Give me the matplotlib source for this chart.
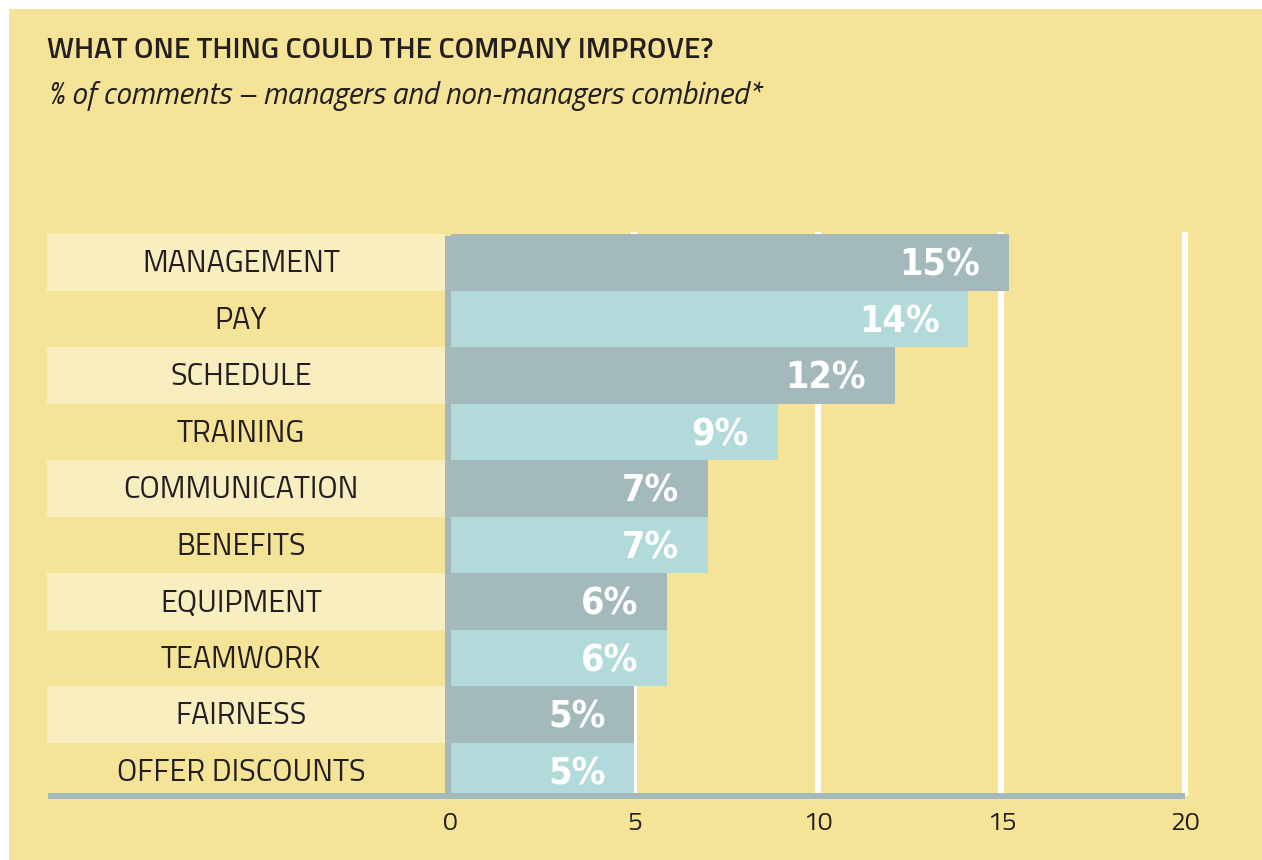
import matplotlib
matplotlib.use("Agg")
import matplotlib.pyplot as plt
from matplotlib.patches import Rectangle

# ---- data
categories = [
    "MANAGEMENT", "PAY", "SCHEDULE", "TRAINING", "COMMUNICATION",
    "BENEFITS", "EQUIPMENT", "TEAMWORK", "FAIRNESS", "OFFER DISCOUNTS",
]
values = [15.2, 14.1, 12.1, 8.9, 7.0, 7.0, 5.9, 5.9, 5.0, 5.0]
x_ticks = [0, 5, 10, 15, 20]

title = "WHAT ONE THING COULD THE COMPANY IMPROVE?"
subtitle = "% of comments \u2013 managers and non-managers combined*"

# ---- style
BG = "#f5e498"
BAND = "#f9eec0"
DARK = "#a3b9bc"
LIGHT = "#b3dadb"
INK = "#231f20"
FONT = ["Titillium Web", "DejaVu Sans"]

W, H = 1262, 860
fig = plt.figure(figsize=(W / 100, H / 100), dpi=100, facecolor="white")
fig.patches.append(
    Rectangle((9 / W, 0), 1 - 9 / W, 1 - 9 / H, transform=fig.transFigure,
              facecolor=BG, edgecolor="none", zorder=-1)
)

ax = fig.add_axes([47 / W, 61 / H, (1185 - 47) / W, (799 - 232) / H])
ax.set_facecolor("none")

x_left = -11.0
band_right = -0.163
ax.set_xlim(x_left, 20)
top = -0.5 - 2 / 56.5
ax.set_ylim(9.5, top)

rows = list(range(len(categories)))

# label bands
for i in rows:
    if i % 2 == 0:
        ax.barh(i, band_right - x_left, left=x_left, height=1.0,
                color=BAND, edgecolor="none", zorder=1)

# grid lines
base_y = 9.5 - 3 / 56.5
ax.vlines(x_ticks[1:], top, base_y, colors="white", linewidth=6 * 0.72,
          zorder=1, clip_on=False)

# bars
bar_colors = [DARK if i % 2 == 0 else LIGHT for i in rows]
ax.barh(rows, values, left=0, height=1.0, color=bar_colors,
        edgecolor="none", zorder=2)

# left spine strip
ax.axvspan(band_right, 0, ymin=0, ymax=(799 - 236) / (799 - 232),
           color=DARK, zorder=3, linewidth=0)

# bottom axis line
ax.hlines(base_y, x_left + 1 / 36.7, 20, colors=DARK, linewidth=6 * 0.72,
          zorder=4, clip_on=False)

# category labels
for i, name in enumerate(categories):
    ax.annotate(name, xy=(-5.72, i), xytext=(0, -1.5), textcoords="offset points",
                ha="center", va="center", fontsize=22, color=INK,
                family=FONT, zorder=5)

# value labels
for i, v in enumerate(values):
    ax.annotate(f"{round(v)}%", xy=(v, i), xytext=(-29 * 0.72, -2.5),
                textcoords="offset points", ha="right", va="center",
                fontsize=27, fontweight="bold", color="white",
                family="DejaVu Sans", fontstretch="condensed", zorder=6)

# axes cosmetics
for s in ax.spines.values():
    s.set_visible(False)
ax.set_yticks([])
ax.set_xticks(x_ticks)
ax.set_xticklabels([str(t) for t in x_ticks], family=FONT, fontsize=19,
                   color=INK)
ax.tick_params(axis="x", length=0, pad=9)

# titles
fig.text(47 / W, 1 - 50 / H, title, ha="left", va="center", fontsize=21.3,
         color=INK, family=FONT, fontweight="semibold")
fig.text(47 / W, 1 - 96 / H, subtitle, ha="left", va="center", fontsize=22.2,
         color=INK, family=FONT, style="italic")

fig.savefig("out.png", dpi=100, facecolor="white")
